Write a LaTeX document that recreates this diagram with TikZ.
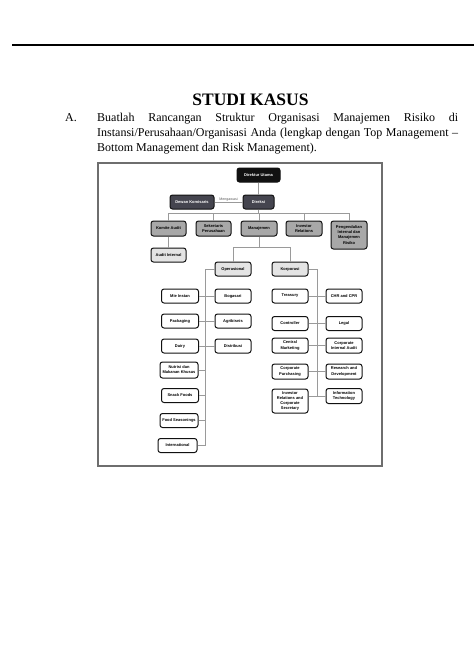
\documentclass[tikz,border=0pt]{standalone}
\usepackage{fontspec}
\setmainfont{Liberation Serif}
\newfontfamily\orgfont{Liberation Sans}
\definecolor{cblack}{HTML}{111111}
\definecolor{cdark}{HTML}{45454F}
\definecolor{cmid}{HTML}{A8A8A8}
\definecolor{clight}{HTML}{E4E4E4}
\definecolor{cline}{HTML}{9A9A9A}
\definecolor{cframe}{HTML}{6E6E6E}
\tikzset{
  org/.style={draw=cblack, rounded corners=2.5pt, line width=1pt, align=center, inner sep=0.5pt,
    minimum width=36pt, minimum height=14pt, font=\orgfont\bfseries\fontsize{4}{5.1}\selectfont},
  topbox/.style={org, fill=cblack, text=white},
  darkbox/.style={org, fill=cdark, text=white},
  midbox/.style={org, fill=cmid},
  lightbox/.style={org, fill=clight},
  unitbox/.style={org, fill=white},
  conn/.style={draw=cline, line width=0.8pt},
  body/.style={anchor=base west, inner sep=0pt, font=\fontsize{12}{15}\selectfont},
}

\begin{document}
\begin{tikzpicture}[x=1pt, y=-1pt]
  \useasboundingbox (0,0) rectangle (474,670);
  \draw[line width=2.2pt] (12,45) -- (474,45);

  \node[anchor=base, inner sep=0pt, font=\bfseries\fontsize{17.5}{20}\selectfont] (title) at (250.5,105) {STUDI KASUS};
  \node[body] (item) at (65,121) {A.};
  \node[body] (l1) at (97,121) {\makebox[361pt][s]{Buatlah Rancangan Struktur Organisasi Manajemen Risiko di}};
  \node[body] (l2) at (97,136) {\makebox[361pt][s]{Instansi/Perusahaan/Organisasi Anda (lengkap dengan Top Management –}};
  \node[body] (l3) at (97,151) {Bottom Management dan Risk Management).};

  \draw[cframe, line width=1.2pt] (98,163) rectangle (382,466);

  % top management
  \node[topbox, minimum width=43pt] (dirut) at (258.5,175) {Direktur Utama};
  \node[darkbox, minimum width=31pt] (direksi) at (258.5,202) {Direksi};
  \node[darkbox, minimum width=44pt] (dewan) at (192,202) {Dewan Komisaris};
  \node[midbox, minimum width=35pt, minimum height=15pt] (komite) at (168.5,228.5) {Komite Audit};
  \node[midbox, minimum width=35pt, minimum height=15pt] (sekre) at (213.5,228.5) {Sekretaris\\Perusahaan};
  \node[midbox, minimum height=15pt] (manaj) at (259,228.5) {Manajemen};
  \node[midbox, minimum height=15pt] (invrel) at (304,228.5) {Investor\\Relations};
  \node[midbox, minimum height=28pt] (pengend) at (349,235) {Pengendalian\\Internal dan\\Manajemen\\Risiko};
  \node[lightbox, minimum width=35pt] (audit) at (168.5,255) {Audit Internal};
  \node[lightbox] (oper) at (233,269) {Operasional};
  \node[lightbox] (korp) at (290,269) {Korporasi};

  % operasional
  \node[unitbox, minimum width=37pt] (mie) at (180,296) {Mie Instan};
  \node[unitbox, minimum width=37pt] (pack) at (180,321) {Packaging};
  \node[unitbox, minimum width=37pt] (dairy) at (180,346) {Dairy};
  \node[unitbox, minimum width=38pt, minimum height=16pt] (nutri) at (179,370) {Nutrisi dan\\Makanan Khusus};
  \node[unitbox, minimum width=37pt] (snack) at (180,395.5) {Snack Foods};
  \node[unitbox, minimum width=38pt] (food) at (179,420.5) {Food Seasonings};
  \node[unitbox, minimum width=39pt] (intl) at (177.5,445.5) {International};
  \node[unitbox] (boga) at (233,296) {Bogasari};
  \node[unitbox] (agri) at (233,321) {Agribisnis};
  \node[unitbox] (distri) at (233,346) {Distribusi};

  % korporasi
  \node[unitbox] (treas) at (290,296) {Treasury};
  \node[unitbox] (contr) at (290,323.5) {Controller};
  \node[unitbox, minimum height=15pt] (cmkt) at (290,345.5) {Central\\Marketing};
  \node[unitbox, minimum height=15pt] (cpur) at (290,371.5) {Corporate\\Purchasing};
  \node[unitbox, minimum height=24pt] (invcs) at (290,401) {Investor\\Relations and\\Corporate\\Secretary};
  \node[unitbox] (chr) at (344,296) {CHR and CPR};
  \node[unitbox] (legal) at (344,323.5) {Legal};
  \node[unitbox, minimum height=15pt] (cia) at (344,345.5) {Corporate\\Internal Audit};
  \node[unitbox, minimum height=15pt] (rnd) at (344,371.5) {Research and\\Development};
  \node[unitbox, minimum height=15pt] (it) at (344,396) {Information\\Technology};

  \coordinate (bus1) at (258.5,213);
  \coordinate (bus2) at (259,247);
  \coordinate (opx) at (205,0);
  \coordinate (kx) at (317,0);

  \draw[conn] (dirut) -- (direksi);
  \draw[conn] (dewan) -- node[above, inner sep=0.6pt, text=black!65, font=\orgfont\fontsize{3.6}{4}\selectfont] (awas) {Mengawasi} (direksi);
  \draw[conn] (direksi) -- (bus1);
  \foreach \c in {komite, sekre, manaj, invrel, pengend}
    \draw[conn] (bus1) -| (\c.north);
  \draw[conn] (komite) -- (audit);
  \draw[conn] (manaj) -- (bus2);
  \draw[conn] (bus2) -| (oper.north);
  \draw[conn] (bus2) -| (korp.north);

  \draw[conn] (oper.west) -| (opx |- intl.east) -- (intl.east);
  \draw[conn] (mie) -- (boga);
  \draw[conn] (pack) -- (agri);
  \draw[conn] (dairy) -- (distri);
  \foreach \c in {nutri, snack, food}
    \draw[conn] (\c.east) -- (\c.east -| opx);

  \draw[conn] (korp.east) -| (kx |- it.west);
  \draw[conn] (treas) -- (chr);
  \draw[conn] (contr) -- (legal);
  \draw[conn] (cmkt) -- (cia);
  \draw[conn] (cpur) -- (rnd);
  \draw[conn] (it.west) -- (it.west -| invcs.east);
\end{tikzpicture}
\end{document}
